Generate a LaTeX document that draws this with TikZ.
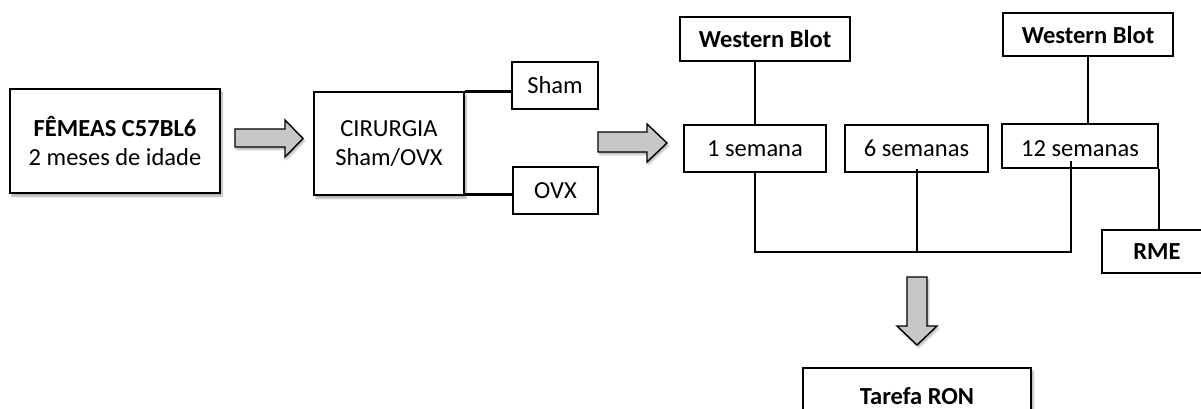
\documentclass[tikz,border=0pt]{standalone}
\usepackage{fontspec}
\setmainfont{Carlito}
\usetikzlibrary{shadows.blur}
\begin{document}
\begin{tikzpicture}[x=1pt,y=-1pt,
  every node/.style={font=\fontsize{24.5}{29}\selectfont, inner sep=0pt, align=center},
  thickbox/.style={draw=black, line width=2.6pt, fill=white,
    blur shadow={shadow xshift=2pt, shadow yshift=-3pt, shadow blur steps=6, shadow opacity=35}},
  thinbox/.style={draw=black, line width=1.4pt, fill=white},
  link/.style={draw=black, line width=1.8pt},
  heavylink/.style={draw=black, line width=2.8pt},
  blockarrow/.style={draw=black, line width=1.4pt, fill=black!22, line join=miter,
    blur shadow={shadow xshift=1.5pt, shadow yshift=-2.5pt, shadow blur steps=5, shadow opacity=30}}]
\useasboundingbox (0,0) rectangle (1201,409);
\clip (0,0) rectangle (1201,409);

% first stage
\node[thickbox, minimum width=210pt, minimum height=104pt] (fem) at (115,141)
  {\textbf{FÊMEAS C57BL6}\\2 meses de idade};
\node[thickbox, minimum width=150pt, minimum height=103pt] (cir) at (389,143.5)
  {CIRURGIA\\Sham/OVX};
\node[thinbox, minimum width=86pt, minimum height=47pt] (sham) at (555,85.5) {Sham};
\node[thinbox, minimum width=85pt, minimum height=47pt] (ovx) at (555.5,190.5) {OVX};

% time points
\node[thinbox, minimum width=170pt, minimum height=44pt] (wb1) at (765,39) {\textbf{Western Blot}};
\node[thinbox, minimum width=170pt, minimum height=43pt] (wb2) at (1088,34.5) {\textbf{Western Blot}};
\node[thinbox, minimum width=142pt, minimum height=47pt] (s1) at (755,148.5) {1 semana};
\node[thinbox, minimum width=143pt, minimum height=47pt] (s6) at (916.5,148.5) {6 semanas};
\node[thinbox, minimum width=156pt, minimum height=44pt, text height=21pt] (s12) at (1080,146) {12 semanas};
\node[thinbox, minimum width=110pt, minimum height=43pt] (rme) at (1157,251.5) {\textbf{RME}};
\node[thickbox, minimum width=228pt, minimum height=56pt] (ron) at (917,396) {\textbf{Tarefa RON}};

% branches of the surgery box
\draw[heavylink] ([yshift=-1pt]cir.north east) -- ([yshift=-1pt]cir.north east -| sham.west);
\draw[heavylink] ([yshift=2pt]cir.south east) -- ([yshift=2pt]cir.south east -| ovx.west);

% analyses above the time points
\draw[link] (s1.north) -- (s1.north |- wb1.south);
\draw[link] (wb2.south) -- (wb2.south |- s12.north);

% bar joining the time points
\coordinate (barL) at (s1.south |- 0,252);
\coordinate (barM) at (917,252);
\coordinate (barR) at (1071,252);
\draw[link] (s1.south) -- (barL) -- (barR) -- ([yshift=8pt]barR |- s12.south);
\draw[link] (barM) -- ([yshift=4pt]barM |- s6.south);
\draw[link] (s12.south east) -- (s12.south east |- rme.north);

% block arrows
\path[blockarrow] (235,129) -- (285,129) -- (285,120) -- (303,138.5) -- (285,157)
  -- (285,147) -- (235,147) -- cycle;
\path[blockarrow] (598,132) -- (647,132) -- (647,124) -- (667,143) -- (647,162)
  -- (647,152) -- (598,152) -- cycle;
\path[blockarrow] (907,277) -- (927,277) -- (927,326) -- (937,326) -- (917,345)
  -- (897,326) -- (907,326) -- cycle;
\end{tikzpicture}
\end{document}
